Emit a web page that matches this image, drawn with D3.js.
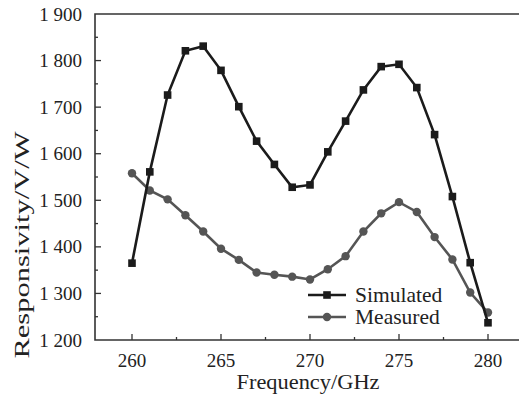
<!DOCTYPE html>
<html>
<head>
<meta charset="utf-8">
<script src="https://cdn.jsdelivr.net/npm/d3@7"></script>
<style>
  body { margin: 0; background: #fff; }
</style>
</head>
<body>
<div id="chart"></div>
<script>
// data
var freqs = [260, 261, 262, 263, 264, 265, 266, 267, 268, 269, 270,
             271, 272, 273, 274, 275, 276, 277, 278, 279, 280];
var simulated = [1365, 1561, 1726, 1821, 1831, 1779, 1701, 1627, 1577, 1528, 1533,
                 1604, 1670, 1737, 1787, 1792, 1742, 1641, 1508, 1366, 1237];
var measured = [1558, 1521, 1502, 1468, 1433, 1396, 1372, 1345, 1340, 1336, 1330,
                1352, 1380, 1433, 1472, 1496, 1475, 1421, 1373, 1302, 1259];
var xTicks = [260, 265, 270, 275, 280];
var yTicks = [1200, 1300, 1400, 1500, 1600, 1700, 1800, 1900];
var yTickLabels = ["1 200", "1 300", "1 400", "1 500", "1 600", "1 700", "1 800", "1 900"];
var seriesNames = ["Simulated", "Measured"];

var FONT = "Liberation Serif";

function paint() {
    var W = 519, H = 401;
    var left = 95, top = 14, bottom = 340;

    var svg = d3.select("#chart").append("svg")
        .attr("width", W)
        .attr("height", H);

    var x = d3.scaleLinear().domain([260, 280]).range([132, 488]);
    var y = d3.scaleLinear().domain([1200, 1900]).range([bottom, top]);

    var axisColor = "#333";
    var textColor = "#222";

    // frame: left, top and bottom lines (no right side)
    svg.append("path")
        .attr("d", "M" + W + "," + top + "H" + left + "V" + bottom + "H" + W)
        .attr("fill", "none")
        .attr("stroke", axisColor)
        .attr("stroke-width", 1.6);

    // y ticks, pointing inward
    var yMinor = d3.range(1250, 1900, 100);
    svg.append("g").selectAll("line").data(yTicks.slice(1, -1)).enter().append("line")
        .attr("x1", left).attr("x2", left + 6)
        .attr("y1", function (d) { return y(d); })
        .attr("y2", function (d) { return y(d); })
        .attr("stroke", axisColor).attr("stroke-width", 1.3);
    svg.append("g").selectAll("line").data(yMinor).enter().append("line")
        .attr("x1", left).attr("x2", left + 3)
        .attr("y1", function (d) { return y(d); })
        .attr("y2", function (d) { return y(d); })
        .attr("stroke", axisColor).attr("stroke-width", 1.3);
    svg.append("g").selectAll("text").data(yTicks).enter().append("text")
        .attr("x", 82)
        .attr("y", function (d) { return y(d) + 6.5; })
        .attr("text-anchor", "end")
        .attr("fill", textColor)
        .attr("font-family", FONT)
        .attr("font-size", 19)
        .text(function (d, i) { return yTickLabels[i]; });

    // x ticks, pointing inward
    var xMinor = d3.range(262.5, 281, 5);
    svg.append("g").selectAll("line").data(xTicks).enter().append("line")
        .attr("x1", function (d) { return x(d); })
        .attr("x2", function (d) { return x(d); })
        .attr("y1", bottom).attr("y2", bottom - 6)
        .attr("stroke", axisColor).attr("stroke-width", 1.3);
    svg.append("g").selectAll("line").data(xMinor).enter().append("line")
        .attr("x1", function (d) { return x(d); })
        .attr("x2", function (d) { return x(d); })
        .attr("y1", bottom).attr("y2", bottom - 3)
        .attr("stroke", axisColor).attr("stroke-width", 1.3);
    svg.append("g").selectAll("text").data(xTicks).enter().append("text")
        .attr("x", function (d) { return x(d); })
        .attr("y", 367)
        .attr("text-anchor", "middle")
        .attr("fill", textColor)
        .attr("font-family", FONT)
        .attr("font-size", 19)
        .text(function (d) { return d; });

    // axis titles
    svg.append("text")
        .attr("x", 308).attr("y", 389)
        .attr("text-anchor", "middle")
        .attr("fill", textColor)
        .attr("font-family", FONT)
        .attr("font-size", 21)
        .attr("textLength", 143)
        .attr("lengthAdjust", "spacingAndGlyphs")
        .text("Frequency/GHz");
    svg.append("text")
        .attr("transform", "translate(29,245) rotate(-90)")
        .attr("text-anchor", "middle")
        .attr("fill", textColor)
        .attr("font-family", FONT)
        .attr("font-size", 21)
        .attr("textLength", 227)
        .attr("lengthAdjust", "spacingAndGlyphs")
        .text("Responsivity/V/W");

    // lines
    var line = d3.line()
        .x(function (d, i) { return x(freqs[i]); })
        .y(function (d) { return y(d); });

    var simColor = "#1b1b1b", measColor = "#555";

    svg.append("path").datum(measured)
        .attr("d", line).attr("fill", "none")
        .attr("stroke", measColor).attr("stroke-width", 2.6);
    svg.append("g").selectAll("circle").data(measured).enter().append("circle")
        .attr("cx", function (d, i) { return x(freqs[i]); })
        .attr("cy", function (d) { return y(d); })
        .attr("r", 4.2)
        .attr("fill", measColor);

    svg.append("path").datum(simulated)
        .attr("d", line).attr("fill", "none")
        .attr("stroke", simColor).attr("stroke-width", 2.6);
    svg.append("g").selectAll("rect").data(simulated).enter().append("rect")
        .attr("x", function (d, i) { return x(freqs[i]) - 3.8; })
        .attr("y", function (d) { return y(d) - 3.8; })
        .attr("width", 7.6).attr("height", 7.6)
        .attr("fill", simColor);

    // legend
    var legend = svg.append("g");
    var ly = [295, 317];
    var lcol = [simColor, measColor];
    seriesNames.forEach(function (name, i) {
        legend.append("line")
            .attr("x1", 308).attr("x2", 346)
            .attr("y1", ly[i]).attr("y2", ly[i])
            .attr("stroke", lcol[i]).attr("stroke-width", 2.6);
        if (i === 0) {
            legend.append("rect")
                .attr("x", 327 - 3.8).attr("y", ly[i] - 3.8)
                .attr("width", 7.6).attr("height", 7.6)
                .attr("fill", lcol[i]);
        } else {
            legend.append("circle")
                .attr("cx", 327).attr("cy", ly[i]).attr("r", 4.2)
                .attr("fill", lcol[i]);
        }
        legend.append("text")
            .attr("x", 355).attr("y", ly[i] + 7)
            .attr("fill", textColor)
            .attr("font-family", FONT)
            .attr("font-size", 21.5)
            .text(name);
    });
}

paint();
</script>
</body>
</html>
